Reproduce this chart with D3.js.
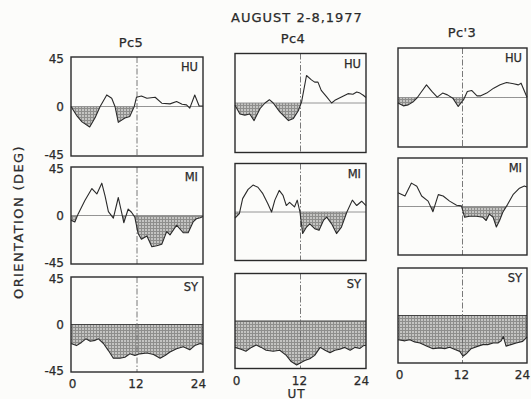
<!DOCTYPE html>
<html>
<head>
<meta charset="utf-8">
<script src="https://cdn.jsdelivr.net/npm/d3@7"></script>
<style>
  body { margin: 0; background: #fcfcfa; }
  svg { display: block; font-family: "DejaVu Sans", sans-serif; }
  text { fill: #2a2a2a; stroke: #2a2a2a; stroke-width: 0.25; }
</style>
</head>
<body>
<div id="chart"></div>
<script>
// ===============================
// DATA  (hour UT, orientation deg)
// ===============================
const bands = ['Pc5', 'Pc4', "Pc'3"];
const stations = ['HU', 'MI', 'SY'];
const yTicks = [45, 0, -45];
const xTicks = [0, 12, 24];

const pc5HU = [[0,0],[1,-8],[2,-14],[3.4,-18.6],[4.4,-10],[5.3,0],[6.5,10.5],[7.4,7.5],[8,0],[8.6,-14.4],[9.8,-10.5],[10.7,-9],[11.5,0],[11.9,8.4],[12.8,9.6],[13.8,7.5],[15.3,8.4],[16.5,3],[18,2.4],[19.2,4.5],[20.2,2],[21,1.5],[21.6,-1.5],[22.5,10.5],[23.3,0.5],[24,0.5]];
const pc4HU = [[0,-2],[0.9,-10],[1.8,-11],[2.7,-10],[3.5,-16],[4.6,-5],[5.5,0],[6.3,3],[7,0],[8.2,-8],[9.8,-16],[10.7,-14],[11.6,-7],[12.2,1],[13.1,25],[14,21],[14.6,19],[15.2,19],[15.8,11.5],[16.8,5.5],[17.7,0],[18.3,2.4],[19.5,5.5],[20.7,8.5],[21.6,8],[22.3,10],[22.9,9],[23.5,7],[24,5]];
const pc3HU = [[0,-5],[1,-7.6],[1.9,-6.7],[2.9,-3.6],[3.6,0],[4.4,5.5],[5.3,11.5],[6.3,5.5],[7.3,0.3],[8.3,4],[9.2,2.4],[10.2,-0.6],[11.2,-8.2],[12.2,-2],[12.9,5.5],[13.7,6.4],[14.7,1.5],[15.4,1.5],[16.5,4],[17.8,8.5],[19,11.5],[20.2,13.7],[21.5,12.5],[22.4,11.5],[22.9,13],[24,0.3]];

const pc5MI = [[0,-4.5],[0.7,-6],[1.3,1.5],[2.5,13.7],[3.8,25],[4.7,20],[5.6,30],[6.2,18],[6.8,3.6],[7.7,-2.4],[8.6,16.7],[9.2,3],[9.6,-6.7],[10.4,6],[11,3],[11.6,-1.5],[12.2,-16.7],[12.8,-22],[13.8,-19],[14.7,-29],[15.6,-28],[16.5,-26.7],[17.4,-15],[18,-18],[19.2,-9],[20.4,-16],[21.3,-16],[22.2,-6],[22.8,-3],[23.5,-2],[24,-1]];
const pc4MI = [[0,-5.6],[0.8,-1.5],[1.4,12.4],[2.4,21],[3.3,25],[4.2,23],[5.1,17],[6,7.8],[6.7,0],[7.3,11],[8.1,20],[8.8,15.5],[9.4,6],[10,9],[10.9,4.7],[11.4,11],[11.9,0],[12.4,-20],[13.1,-14],[13.7,-11],[14.6,-15.5],[15.4,-17],[16.2,-7.8],[16.8,-4.7],[17.7,-11],[18.6,-20],[19.5,-14],[20.5,0],[21.5,11],[22.3,6],[23.2,10],[24,6]];
const pc3MI = [[0,12.7],[1.3,9.7],[2.5,21.7],[3.5,18.7],[4.4,9.7],[5.6,5],[6.5,-4.8],[7.5,11],[8.4,9.7],[9.6,5],[10.9,1.2],[11.8,0.6],[12.4,-10],[13.3,-9],[14.6,-9],[15.8,-10],[16.4,-13],[17,-7],[17.7,-10],[18.3,-19],[18.9,-13],[19.5,-5.4],[20.4,2],[21.4,11],[22.6,17],[23.5,19],[24,18]];

const pc5SY = [[0,-18],[1,-20],[1.9,-17],[2.7,-13.6],[3.5,-15.8],[4.4,-15],[5,-13.6],[5.9,-18],[6.8,-24.7],[7.7,-32],[8.9,-32],[9.8,-31],[10.7,-27.8],[11.6,-29.4],[12.5,-27.8],[13.8,-27],[15,-28.5],[16.2,-32],[17.1,-29.4],[18,-26],[19.2,-23],[20.4,-21],[21.6,-24],[22.5,-20],[23.5,-18],[24,-19]];
const pc4SY = [[0,-25],[1.1,-26.7],[2,-28.7],[3,-25],[3.9,-22.8],[4.8,-25],[5.7,-27.7],[7,-28.7],[8.2,-27.7],[9.4,-32.6],[10.3,-38.4],[11.3,-41.7],[12.2,-39],[12.8,-37.5],[13.7,-35.8],[14.6,-32.6],[15.6,-25],[16.5,-27.7],[17.4,-30],[18.3,-27.7],[19.2,-26.7],[20.1,-25],[21.1,-27.7],[22,-25],[22.9,-26],[23.5,-23.5],[24,-23]];
const pc3SY = [[0,-23],[1.3,-24],[2.2,-23],[3.1,-25],[4.1,-26],[5.3,-29],[6.5,-31.4],[7.8,-30.7],[8.7,-31.4],[9.6,-30],[10.6,-32.3],[11.5,-34],[12.1,-38.6],[12.7,-36.4],[13.6,-31.4],[14.9,-29],[15.8,-27.6],[16.7,-27.6],[17.7,-26],[18.6,-26],[19.2,-24],[19.6,-20],[20.1,-29],[21,-27.6],[22,-26],[23.2,-24.5],[24,-20.5]];

const series = {
  HU: [pc5HU, pc4HU, pc3HU],
  MI: [pc5MI, pc4MI, pc3MI],
  SY: [pc5SY, pc4SY, pc3SY]
};

// ===============================
// LAYOUT
// ===============================
const width = 531, height = 399;
const colLeft = [71, 235, 398];
const colW = [132, 131, 129];
const colShift = [0, -3.5, -9];   // scan is slightly tilted
const rowTop = [57, 167, 277];
const rowH = [99, 97, 95];
const xTickNudge = { 0: 1.5, 12: -1, 24: -4.5 };

const svg = d3.select('#chart').append('svg')
  .attr('width', width)
  .attr('height', height);

// stipple pattern for the shaded areas
const defs = svg.append('defs');
const pat = defs.append('pattern')
  .attr('id', 'tone')
  .attr('width', 3).attr('height', 3)
  .attr('patternUnits', 'userSpaceOnUse');
pat.append('rect').attr('width', 3).attr('height', 3).attr('fill', '#c4c4c2');
pat.append('path').attr('d', 'M0,0.5H3M0.5,0V3')
  .attr('stroke', '#8e8e8c').attr('stroke-width', 1);

const ink = '#2a2a2a';

// titles
svg.append('text')
  .attr('x', 297).attr('y', 22)
  .attr('text-anchor', 'middle')
  .attr('font-size', 13).attr('letter-spacing', 1)
  .text('AUGUST 2-8,1977');

const bandPos = [[131, 47], [293, 43], [462, 37]];
bands.forEach((b, i) => {
  svg.append('text')
    .attr('x', bandPos[i][0]).attr('y', bandPos[i][1])
    .attr('text-anchor', 'middle')
    .attr('font-size', 13).attr('letter-spacing', 0.4)
    .text(b);
});

svg.append('text')
  .attr('transform', 'translate(23,222) rotate(-90)')
  .attr('text-anchor', 'middle')
  .attr('font-size', 13).attr('letter-spacing', 1.4)
  .text('ORIENTATION (DEG)');

// ===============================
// PANELS
// ===============================
let clipId = 0;
stations.forEach((st, r) => {
  bands.forEach((b, c) => {
    const top = rowTop[r] + colShift[c];
    const x = d3.scaleLinear().domain([0, 24]).range([colLeft[c], colLeft[c] + colW[c]]);
    const y = d3.scaleLinear().domain([-45, 45]).range([top + rowH[r], top]);
    const data = series[st][c];
    const g = svg.append('g');

    // shaded part below zero
    const id = 'clip' + (clipId++);
    defs.append('clipPath').attr('id', id)
      .append('rect')
      .attr('x', x(0)).attr('y', y(0))
      .attr('width', x(24) - x(0)).attr('height', y(-45) - y(0));

    g.append('path')
      .datum(data)
      .attr('clip-path', `url(#${id})`)
      .attr('fill', 'url(#tone)')
      .attr('d', d3.area().x(d => x(d[0])).y0(y(0)).y1(d => y(d[1])));

    // zero line
    g.append('line')
      .attr('x1', x(0)).attr('x2', x(24))
      .attr('y1', y(0)).attr('y2', y(0))
      .attr('stroke', st === 'SY' ? '#444' : '#8a8a8a')
      .attr('stroke-width', st === 'SY' ? 1.2 : 0.9);

    // 12 UT marker
    g.append('line')
      .attr('x1', x(12)).attr('x2', x(12))
      .attr('y1', y(45)).attr('y2', y(-45))
      .attr('stroke', '#6a6a6a')
      .attr('stroke-width', 0.9)
      .attr('stroke-dasharray', '6,2,1.5,2');

    // curve
    g.append('path')
      .datum(data)
      .attr('fill', 'none')
      .attr('stroke', ink)
      .attr('stroke-width', 1.1)
      .attr('stroke-linejoin', 'round')
      .attr('d', d3.line().x(d => x(d[0])).y(d => y(d[1])));

    // frame
    g.append('rect')
      .attr('x', x(0)).attr('y', y(45))
      .attr('width', x(24) - x(0)).attr('height', y(-45) - y(45))
      .attr('fill', 'none')
      .attr('stroke', ink)
      .attr('stroke-width', 1.4);

    // station label
    g.append('text')
      .attr('x', x(24) - 5).attr('y', y(45) + 14)
      .attr('text-anchor', 'end')
      .attr('font-size', 11.5)
      .text(st);

    // y ticks on the first column
    if (c === 0) {
      yTicks.forEach(v => {
        const dy = v === 45 ? 5.5 : (v === -45 ? 3 : 4.5);
        g.append('text')
          .attr('x', x(0) - 7).attr('y', y(v) + dy)
          .attr('text-anchor', 'end')
          .attr('font-size', 12)
          .text(v === -45 ? '-45' : v);
      });
    }

    // x ticks on bottom row
    if (r === stations.length - 1) {
      xTicks.forEach(t => {
        g.append('text')
          .attr('x', x(t) + xTickNudge[t]).attr('y', y(-45) + 16)
          .attr('text-anchor', 'middle')
          .attr('font-size', 12)
          .text(t);
      });
      if (c === 1) {
        g.append('text')
          .attr('x', x(12) - 4).attr('y', y(-45) + 29)
          .attr('text-anchor', 'middle')
          .attr('font-size', 12).attr('letter-spacing', 1)
          .text('UT');
      }
    }
  });
});
</script>
</body>
</html>
